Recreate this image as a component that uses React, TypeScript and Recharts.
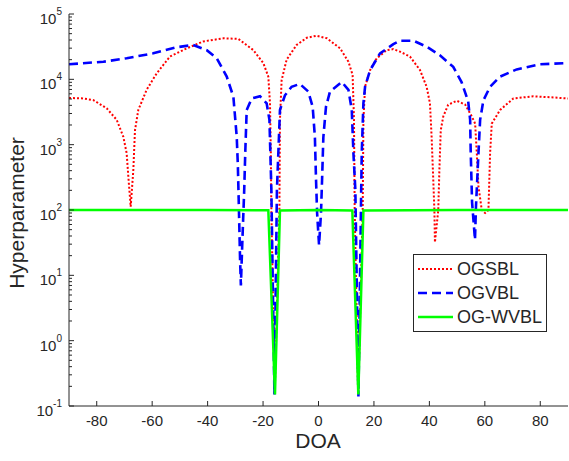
import React from "react";
import { Legend, Line, LineChart, XAxis, YAxis } from "recharts";

const FONT = "'Liberation Sans', Arial, sans-serif";
const INK = "#262626";

// DOA axis
const doaTicks = [-80, -60, -40, -20, 0, 20, 40, 60, 80];
// hyperparameter axis (log)
const decadeTicks = [0.1, 1, 10, 100, 1000, 10000, 100000];
const minorSteps = [2, 3, 4, 5, 6, 7, 8, 9];

const seriesNames = ["OGSBL", "OGVBL", "OG-WVBL"];

const ogsblDoa = [
  -90, -85, -81.2, -76.4, -72.8, -70.4, -69.2, -68.6, -67.75, -66.8, -66.2, -65, -62, -58.4, -53.6,
  -47.5, -41.6, -34.3, -28.9, -23.5, -19.9, -18.1, -17.5, -17.2, -17.0, -15.8, -14.1, -13.9, -13.3,
  -11.5, -7.9, -4.2, -0.65, 3, 7.8, 10.8, 12.3, 12.8, 13.05, 14.3, 15.95, 16.2, 16.8, 18.6, 21, 24.6,
  27, 29.4, 33, 36.6, 39, 40.2, 40.8, 41.4, 41.8, 42, 43.2, 43.6, 44.1, 45, 46.8, 49.9, 52.9, 55.3,
  56.5, 57.1, 57.7, 58.9, 60.1, 61.3, 61.9, 62.5, 65.5, 70.3, 77.5, 84, 90,
];
const ogsblVal = [
  5200, 5100, 4800, 3600, 2400, 1320, 740, 325, 112, 405, 1660, 3400, 6900, 12300, 22300,
  29800, 38000, 42500, 41500, 28000, 17700, 11000, 4300, 740, 100, 0.15, 100, 2400, 9700,
  20000, 33600, 43300, 46500, 42500, 29800, 18600, 11700, 2400, 100, 0.15, 100, 2400, 7700, 13800, 21000, 28000,
  29000, 26500, 22300, 13900, 7700, 4300, 1320, 290, 100, 32, 100, 405, 1660, 2700, 4100, 4700, 4100, 2700,
  2100, 740, 230, 100, 90, 100, 740, 2100, 3400, 5100, 5500, 5300, 5100,
];

const ogvblDoa = [
  -90, -77.6, -69.2, -59.6, -51.2, -45.2, -40.3, -36.7, -33.1, -30.7, -29.5, -29.1, -28.7, -28.3, -28.0,
  -27.4, -26.8, -26.4, -25.9, -24.1, -21.1, -18.7, -17.7, -17.0, -15.9, -15.0, -13.9, -12.1, -9.7, -6.7,
  -3.7, -2.1, -1.3, -0.9, -0.5, 0.2, 0.9, 1.3, 1.75, 2.7, 4.15, 8.4, 10.8, 12, 12.6, 13.3, 14.4, 15.4,
  15.6, 16.2, 16.8, 18.6, 22.2, 27, 29.4, 34.2, 39, 43.8, 48.6, 51.6, 54, 54.7, 54.9, 55.4, 56.45, 56.8,
  57.7, 58.3, 59.5, 61.9, 65.5, 71.5, 79.9, 90,
];
const ogvblVal = [
  17000, 18600, 21000, 25000, 31000, 33600, 28000, 21000, 11000, 5400, 1320, 500, 100, 18, 7,
  40, 200, 800, 3400, 5100, 5500, 4300, 2400, 200, 0.15, 200, 3400, 5700, 7700, 8500,
  6500, 3800, 1300, 300, 90, 29, 90, 300, 1300, 3800, 6500, 9100, 6900, 3400, 740, 200, 0.14, 200,
  740, 4300, 7700, 13800, 25000, 34500, 39000, 39000, 31600, 23400, 15500, 9100, 4600, 2400, 800, 130, 35, 112,
  740, 2400, 4800, 7700, 11000, 14200, 17000, 17800,
];

const ogwvblDoa = [-90, -40, -18.1, -15.7, -13.9, 0, 12.2, 14.36, 16.2, 50, 90];
const ogwvblVal = [100, 100, 99, 0.15, 98, 100, 98, 0.15, 98, 100, 100];

const zip = (xs: number[], ys: number[]) => xs.map((doa, i) => ({ doa, val: ys[i] }));
const ogsblData = zip(ogsblDoa, ogsblVal);
const ogvblData = zip(ogvblDoa, ogvblVal);
const ogwvblData = zip(ogwvblDoa, ogwvblVal);

const hyperTicks = [
  ...decadeTicks,
  ...decadeTicks.slice(0, -1).flatMap((d) => minorSteps.map((m) => d * m)),
].sort((a, b) => a - b);

const styles = [
  { color: "#ff0000", dash: "2 2", width: 2 },
  { color: "#0000ff", dash: "9 5", width: 2.6 },
  { color: "#00ff00", dash: undefined, width: 2.5 },
];

function isDecade(v: number) {
  const l = Math.log10(v);
  return Math.abs(l - Math.round(l)) < 1e-6;
}

function BottomTick({ x, y, payload }: any) {
  return (
    <g>
      <line x1={x} x2={x} y1={y} y2={y - 5} stroke={INK} />
      <text x={x} y={y + 20} textAnchor="middle" fontSize={15} fill={INK} fontFamily={FONT}>
        {payload.value}
      </text>
    </g>
  );
}

function TopTick({ x, y }: any) {
  return <line x1={x} x2={x} y1={y} y2={y + 5} stroke={INK} />;
}

function LeftTick({ x, y, payload }: any) {
  const v = payload.value;
  const major = isDecade(v);
  return (
    <g>
      <line x1={x} x2={x + (major ? 5 : 3)} y1={y} y2={y} stroke={INK} />
      {major && (
        <text x={x - 7} y={y + 10} textAnchor="end" fontSize={15} fill={INK} fontFamily={FONT}>
          10
          <tspan dy={-9} fontSize={10}>
            {Math.round(Math.log10(v))}
          </tspan>
        </text>
      )}
    </g>
  );
}

function RightTick({ x, y, payload }: any) {
  const major = isDecade(payload.value);
  return <line x1={x} x2={x - (major ? 5 : 3)} y1={y} y2={y} stroke={INK} />;
}

function LegendBox() {
  return (
    <div
      style={{
        width: 134,
        height: 78,
        boxSizing: "border-box",
        border: `1px solid ${INK}`,
        background: "#fff",
        position: "relative",
        fontFamily: FONT,
      }}
    >
      {seriesNames.map((name, i) => (
        <div
          key={name}
          style={{ position: "absolute", left: 0, top: [2, 26, 50][i], height: 24, display: "flex", alignItems: "center" }}
        >
          <svg width={43} height={24}>
            <line
              x1={4}
              x2={39}
              y1={12}
              y2={12}
              stroke={styles[i].color}
              strokeWidth={styles[i].width}
              strokeDasharray={styles[i].dash}
            />
          </svg>
          <span style={{ fontSize: 18, color: INK, lineHeight: "24px" }}>{name}</span>
        </div>
      ))}
    </div>
  );
}

export default function App() {
  const datasets = [ogsblData, ogvblData, ogwvblData];
  return (
    <div style={{ position: "absolute", left: 0, top: 0, background: "#fff" }}>
      <LineChart width={569} height={461} margin={{ top: 14, right: 1, bottom: 0, left: 0 }}>
        <XAxis
          xAxisId="b"
          type="number"
          dataKey="doa"
          domain={[-90, 90]}
          allowDataOverflow
          ticks={doaTicks}
          interval={0}
          height={55}
          tickSize={0}
          tickMargin={0}
          tickLine={false}
          axisLine={{ stroke: INK }}
          tick={<BottomTick />}
          label={{
            content: () => (
              <text x={318} y={448} textAnchor="middle" fontSize={21} fill={INK} fontFamily={FONT}>
                DOA
              </text>
            ),
          }}
        />
        <XAxis
          xAxisId="t"
          orientation="top"
          type="number"
          dataKey="doa"
          domain={[-90, 90]}
          allowDataOverflow
          ticks={doaTicks}
          interval={0}
          height={0}
          tickSize={0}
          tickMargin={0}
          tickLine={false}
          axisLine={{ stroke: INK }}
          tick={<TopTick />}
        />
        <YAxis
          yAxisId="l"
          scale="log"
          type="number"
          domain={[0.1, 100000]}
          allowDataOverflow
          ticks={hyperTicks}
          interval={0}
          width={69}
          tickSize={0}
          tickMargin={0}
          tickLine={false}
          axisLine={{ stroke: INK }}
          tick={<LeftTick />}
          label={{
            content: () => (
              <text
                x={24}
                y={213}
                transform="rotate(-90 24 213)"
                textAnchor="middle"
                fontSize={21}
                fill={INK}
                fontFamily={FONT}
              >
                Hyperparameter
              </text>
            ),
          }}
        />
        <YAxis
          yAxisId="r"
          orientation="right"
          scale="log"
          type="number"
          domain={[0.1, 100000]}
          allowDataOverflow
          ticks={hyperTicks}
          interval={0}
          width={0}
          tickSize={0}
          tickMargin={0}
          tickLine={false}
          axisLine={{ stroke: INK }}
          tick={<RightTick />}
        />
        {datasets.map((data, i) => (
          <Line
            key={seriesNames[i]}
            name={seriesNames[i]}
            data={data}
            dataKey="val"
            xAxisId="b"
            yAxisId="l"
            type="linear"
            stroke={styles[i].color}
            strokeWidth={styles[i].width}
            strokeDasharray={styles[i].dash}
            dot={false}
            activeDot={false}
            isAnimationActive={false}
          />
        ))}
        <Legend
          layout="vertical"
          align="center"
          verticalAlign="middle"
          wrapperStyle={{ left: 413, top: 254, width: 134, height: 78 }}
          content={() => <LegendBox />}
        />
      </LineChart>
    </div>
  );
}
